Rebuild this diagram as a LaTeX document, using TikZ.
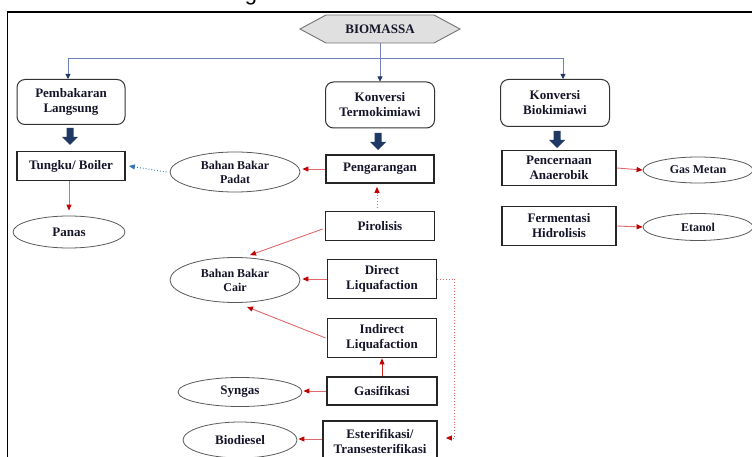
\documentclass[tikz,border=0pt]{standalone}
\usepackage{fontspec}
\setmainfont{Liberation Serif}
\newfontfamily\capfont{Liberation Sans}
\usetikzlibrary{arrows.meta,shapes.geometric,calc}
\definecolor{navy}{HTML}{1F3864}
\definecolor{redl}{HTML}{E06A6A}
\definecolor{redd}{HTML}{C00000}
\definecolor{bluel}{HTML}{6F82B8}
\definecolor{dotblue}{HTML}{2E75B6}
\definecolor{txt}{HTML}{15152A}
\begin{document}
\begin{tikzpicture}[x=1pt,y=-1pt,
  every node/.style={text=txt},
  bigf/.style={font=\fontsize{13}{15}\selectfont\bfseries},
  smallf/.style={font=\fontsize{12}{14}\selectfont\bfseries},
  rbox/.style={draw=black!80, line width=1pt, rounded corners=8pt, align=center, inner sep=0pt, bigf},
  sbox/.style={draw=black!85, line width=1.7pt, align=center, inner sep=0pt, bigf},
  ell/.style={ellipse, draw=black!65, line width=0.8pt, align=center, inner sep=0pt, bigf},
  bluearr/.style={draw=bluel, line width=0.8pt, -{Triangle[length=5pt,width=5pt,color=navy]}},
  redarr/.style={draw=redl, line width=0.9pt, -{Triangle[length=6pt,width=5pt,color=redd]}},
  reddot/.style={draw=redl, line width=0.9pt, dotted, -{Triangle[length=6pt,width=5pt,color=redd]}},
  bluedot/.style={draw=dotblue, line width=0.9pt, dotted, -{Triangle[length=6pt,width=5pt,color=dotblue]}},
  blockarr/.pic={\fill[navy] (-3.5,0) -- (3.5,0) -- (3.5,9) -- (8,9) -- (0,17) -- (-8,9) -- (-3.5,9) -- cycle;}
]
\useasboundingbox (0,0) rectangle (752,457);
\clip (0,0) rectangle (752,457);

% cut-off caption fragment
\node[anchor=base, inner sep=0pt, font=\capfont\fontsize{22}{24}\selectfont, text=black] (cap) at (251,0.5) {g};

% frame
\draw[line width=1.5pt, black] (7.5,460) -- (7.5,12) -- (755,12);

% BIOMASSA
\filldraw[fill=black!12, draw=black!55, line width=0.9pt] (300,29) -- (326,15) -- (434,15) -- (460,29) -- (434,43) -- (326,43) -- cycle;
\node[minimum width=160pt, minimum height=28pt, inner sep=0pt, bigf] (bio) at (380,29) {BIOMASSA};

% top boxes
\node[rbox, minimum width=108pt, minimum height=45pt] (pl) at (71,102) {Pembakaran\\Langsung};
\node[rbox, minimum width=109pt, minimum height=46pt] (kt) at (380,105) {Konversi\\Termokimiawi};
\node[rbox, minimum width=109pt, minimum height=47pt] (kb) at (555,103) {Konversi\\Biokimiawi};

% block arrows
\pic at (70,128) {blockarr};
\pic at (378,133) {blockarr};
\pic at (557,131) {blockarr};

% row 2
\node[sbox, minimum width=108pt, minimum height=29pt] (tb) at (71,166) {Tungku/ Boiler};
\node[ell, smallf, minimum width=130pt, minimum height=40pt] (bbp) at (235,172) {Bahan Bakar\\Padat};
\node[sbox, minimum width=108pt, minimum height=28pt] (pg) at (380,169) {Pengarangan};
\node[sbox, minimum width=114pt, minimum height=35pt] (pa) at (559,168) {Pencernaan\\Anaerobik};
\node[ell, smallf, minimum width=110pt, minimum height=26pt] (gm) at (698,170) {Gas Metan};

% row 3
\node[ell, minimum width=112pt, minimum height=32pt] (pn) at (69,232) {Panas};
\node[sbox, minimum width=109pt, minimum height=29pt] (pi) at (380,226) {Pirolisis};
\node[sbox, minimum width=114pt, minimum height=39pt] (fh) at (559,226) {Fermentasi\\Hidrolisis};
\node[ell, smallf, minimum width=110pt, minimum height=27pt] (et) at (698,227) {Etanol};

% lower
\node[ell, smallf, minimum width=130pt, minimum height=45pt] (bbc) at (235,280) {Bahan Bakar\\Cair};
\node[sbox, minimum width=109pt, minimum height=39pt] (dl) at (382,279) {Direct\\Liquafaction};
\node[sbox, minimum width=109pt, minimum height=39pt] (il) at (382,338) {Indirect\\Liquafaction};
\node[sbox, minimum width=110pt, minimum height=28pt] (gs) at (382,391) {Gasifikasi};
\node[ell, minimum width=124pt, minimum height=29pt] (sy) at (240,392) {Syngas};
\node[sbox, minimum width=114pt, minimum height=40pt] (es) at (380,441) {Esterifikasi/\\Transesterifikasi};
\node[ell, minimum width=114pt, minimum height=36pt] (bd) at (240,440) {Biodiesel};

% top connectors
\coordinate (bar) at (380,58);
\draw[bluearr] (bio.south) -- (kt.north);
\draw[bluearr] (bar) -| ($(pl.north)+(-3,0)$);
\draw[bluearr] (bar) -| ($(kb.north)+(8,0)$);

% connectors
\draw[redarr] (pn.north |- tb.south) -- ($(pn.north)+(0,-5)$);
\draw[bluedot] ($(bbp.west)+(-3,0)$ |- tb.east) -- ($(tb.east)+(3,0)$);
\draw[redarr] (pg.west) -- ($(pg.west -| bbp.east)+(2,0)$);
\draw[reddot] ($(pi.north)+(-3,-3)$) -- ($(pg.south)+(-3,3)$);
\draw[redarr] ($(pi.west)+(-2,3)$) -- ($(bbc.north)+(15,-2)$);
\draw[redarr] (dl.west) -- ($(dl.west -| bbc.east)+(2,0)$);
\draw[redarr] ($(il.west)+(-1,0)$) -- ($(bbc.south)+(12,4)$);
\draw[redarr, draw=redd!85] (gs.north) -- (il.south);
\draw[redarr] (gs.west) -- ($(gs.west -| sy.east)+(1,0)$);
\draw[redarr] ($(es.west)+(0,-2)$) -- ($(es.west -| bd.east)+(1,-2)$);
\draw[reddot] (dl.east) -- ++(17,0) |- ($(es.east)+(8,-3)$);
\draw[redarr] (pa.east) -- (gm.west);
\draw[redarr] (fh.east) -- (et.west);
\end{tikzpicture}
\end{document}
